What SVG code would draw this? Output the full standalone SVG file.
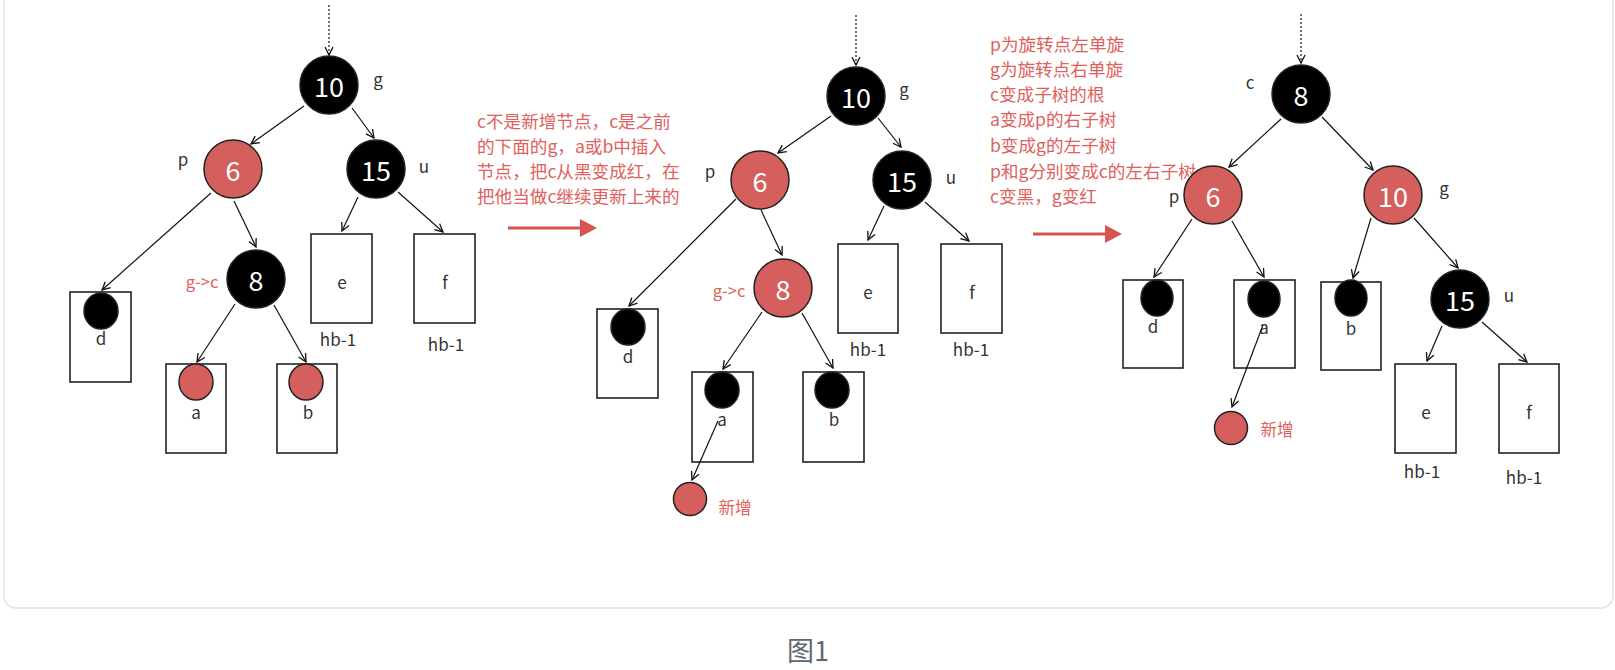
<svg xmlns="http://www.w3.org/2000/svg" width="1615" height="670" viewBox="0 0 1615 670">
<defs>
<marker id="open" markerUnits="userSpaceOnUse" markerWidth="12" markerHeight="12" refX="9" refY="5" orient="auto">
<path d="M1,1 L9,5 L1,9" fill="none" stroke="#111" stroke-width="1.3"/>
</marker>
<style>
.lbl{font-family:"Noto Sans CJK SC","Noto Sans",sans-serif;font-size:17px;fill:#333;text-anchor:middle;dominant-baseline:central}
.num{font-family:"Noto Sans CJK SC","Noto Sans",sans-serif;font-size:27px;fill:#fff;text-anchor:middle;dominant-baseline:central}
.red-t{font-family:"Noto Sans CJK SC","Noto Sans",sans-serif;font-size:17.6px;fill:#e0605c}
.rl{font-family:"Noto Sans CJK SC","Noto Sans",sans-serif;font-size:16.5px;fill:#e0605c;text-anchor:middle;dominant-baseline:central}
.blk{fill:#000;stroke:#222;stroke-width:1.5}
.red{fill:#d45f5c;stroke:#222;stroke-width:1.5}
.box{fill:#fff;stroke:#222;stroke-width:1.6}
.edge{stroke:#111;stroke-width:1.2;fill:none;marker-end:url(#open)}
.dot{stroke:#111;stroke-width:1.2;fill:none;stroke-dasharray:2 2;marker-end:url(#open)}
.arrowline{stroke:#d9534f;stroke-width:3}
</style>
</defs>
<rect x="0" y="0" width="1615" height="670" fill="#fff"/>
<rect x="4" y="-20" width="1609" height="628" rx="12" ry="12" fill="#fff" stroke="#e2e2e6" stroke-width="1.5"/>
<text x="808" y="649" font-family="'Noto Sans CJK SC','Noto Sans',sans-serif" font-size="27" fill="#5f6670" text-anchor="middle" dominant-baseline="central">图1</text>

<g id="connectors">
<line class="dot" x1="329" y1="5" x2="329" y2="55"/>
<line class="edge" x1="304" y1="106" x2="251" y2="144"/>
<line class="edge" x1="352" y1="108" x2="374" y2="138"/>
<line class="edge" x1="211" y1="193" x2="102" y2="290"/>
<line class="edge" x1="234" y1="201" x2="256" y2="247"/>
<line class="edge" x1="358" y1="197" x2="342" y2="231"/>
<line class="edge" x1="398" y1="192" x2="443" y2="232"/>
<line class="edge" x1="235" y1="304" x2="197" y2="362"/>
<line class="edge" x1="274" y1="305" x2="306" y2="362"/>

<line class="dot" x1="856" y1="15" x2="856" y2="65"/>
<line class="edge" x1="831" y1="116" x2="778" y2="153"/>
<line class="edge" x1="878" y1="118" x2="901" y2="147"/>
<line class="edge" x1="736" y1="199" x2="629" y2="306"/>
<line class="edge" x1="761" y1="210" x2="782" y2="255"/>
<line class="edge" x1="884" y1="206" x2="868" y2="240"/>
<line class="edge" x1="925" y1="202" x2="969" y2="241"/>
<line class="edge" x1="762" y1="312" x2="723" y2="369"/>
<line class="edge" x1="802" y1="313" x2="833" y2="368"/>

<line class="dot" x1="1301" y1="14" x2="1301" y2="63"/>
<line class="edge" x1="1281" y1="119" x2="1229" y2="167"/>
<line class="edge" x1="1322" y1="117" x2="1373" y2="170"/>
<line class="edge" x1="1192" y1="219" x2="1154" y2="277"/>
<line class="edge" x1="1232" y1="221" x2="1264" y2="277"/>
<line class="edge" x1="1371" y1="218" x2="1353" y2="278"/>
<line class="edge" x1="1414" y1="218" x2="1458" y2="268"/>
<line class="edge" x1="1442" y1="326" x2="1427" y2="361"/>
<line class="edge" x1="1482" y1="322" x2="1527" y2="362"/>

<line class="arrowline" x1="508" y1="228" x2="582" y2="228"/>
<polygon points="580,219 597,228 580,237" fill="#d9534f"/>
<line class="arrowline" x1="1033" y1="234" x2="1107" y2="234"/>
<polygon points="1105,225 1122,234 1105,243" fill="#d9534f"/>
</g>

<!-- Tree 1 -->
<g id="t1-n10"><circle class="blk" cx="329" cy="85" r="29"/><text class="num" x="329" y="85">10</text><text class="lbl" x="378" y="78">g</text></g>
<g id="t1-n6"><circle class="red" cx="233" cy="169" r="29"/><text class="num" x="233" y="169">6</text><text class="lbl" x="183" y="158">p</text></g>
<g id="t1-n15"><circle class="blk" cx="376" cy="169" r="29"/><text class="num" x="376" y="169">15</text><text class="lbl" x="424" y="165">u</text></g>
<g id="t1-n8"><circle class="blk" cx="256" cy="279" r="29"/><text class="num" x="256" y="279">8</text><text class="rl" x="202" y="281">g-&gt;c</text></g>
<g id="t1-d"><rect class="box" x="70" y="292" width="61" height="90"/><ellipse class="blk" cx="101" cy="311" rx="17" ry="18"/><text class="lbl" x="101" y="337">d</text></g>
<g id="t1-a"><rect class="box" x="166" y="364" width="60" height="89"/><ellipse class="red" cx="196" cy="382" rx="17" ry="18"/><text class="lbl" x="196" y="411">a</text></g>
<g id="t1-b"><rect class="box" x="277" y="364" width="60" height="89"/><ellipse class="red" cx="306" cy="382" rx="17" ry="18"/><text class="lbl" x="308" y="411">b</text></g>
<g id="t1-e"><rect class="box" x="311" y="234" width="61" height="89"/><text class="lbl" x="342" y="281">e</text><text class="lbl" x="338" y="338">hb-1</text></g>
<g id="t1-f"><rect class="box" x="414" y="234" width="61" height="89"/><text class="lbl" x="445" y="281">f</text><text class="lbl" x="446" y="343">hb-1</text></g>

<g id="note1">
<text class="red-t" x="477" y="128">c不是新增节点，c是之前</text>
<text class="red-t" x="477" y="153">的下面的g，a或b中插入</text>
<text class="red-t" x="477" y="178">节点，把c从黑变成红，在</text>
<text class="red-t" x="477" y="203">把他当做c继续更新上来的</text>
</g>

<!-- Tree 2 -->
<g id="t2-n10"><circle class="blk" cx="856" cy="96" r="29"/><text class="num" x="856" y="96">10</text><text class="lbl" x="904" y="88">g</text></g>
<g id="t2-n6"><circle class="red" cx="760" cy="180" r="29"/><text class="num" x="760" y="180">6</text><text class="lbl" x="710" y="170">p</text></g>
<g id="t2-n15"><circle class="blk" cx="902" cy="180" r="29"/><text class="num" x="902" y="180">15</text><text class="lbl" x="951" y="176">u</text></g>
<g id="t2-n8"><circle class="red" cx="783" cy="288" r="29"/><text class="num" x="783" y="288">8</text><text class="rl" x="729" y="290">g-&gt;c</text></g>
<g id="t2-d"><rect class="box" x="597" y="309" width="61" height="89"/><ellipse class="blk" cx="628" cy="327" rx="17" ry="18"/><text class="lbl" x="628" y="355">d</text></g>
<g id="t2-a"><rect class="box" x="692" y="372" width="61" height="90"/><ellipse class="blk" cx="722" cy="390" rx="17" ry="18"/><text class="lbl" x="722" y="418">a</text></g>
<g id="t2-b"><rect class="box" x="803" y="372" width="61" height="90"/><ellipse class="blk" cx="832" cy="390" rx="17" ry="18"/><text class="lbl" x="834" y="418">b</text></g>
<g id="t2-e"><rect class="box" x="838" y="244" width="60" height="89"/><text class="lbl" x="868" y="291">e</text><text class="lbl" x="868" y="348">hb-1</text></g>
<g id="t2-f"><rect class="box" x="941" y="244" width="61" height="89"/><text class="lbl" x="972" y="291">f</text><text class="lbl" x="971" y="348">hb-1</text></g>
<g id="t2-new"><line class="edge" x1="718" y1="421" x2="692" y2="480"/><circle class="red" cx="690" cy="499" r="16.5"/><text class="rl" x="735" y="507" font-size="17.5">新增</text></g>

<g id="note2">
<text class="red-t" x="990" y="51">p为旋转点左单旋</text>
<text class="red-t" x="990" y="76">g为旋转点右单旋</text>
<text class="red-t" x="990" y="101">c变成子树的根</text>
<text class="red-t" x="990" y="126">a变成p的右子树</text>
<text class="red-t" x="990" y="152">b变成g的左子树</text>
<text class="red-t" x="990" y="178">p和g分别变成c的左右子树</text>
<text class="red-t" x="990" y="203">c变黑，g变红</text>
</g>

<!-- Tree 3 -->
<g id="t3-n8"><circle class="blk" cx="1301" cy="94" r="29"/><text class="num" x="1301" y="94">8</text><text class="lbl" x="1250" y="81">c</text></g>
<g id="t3-n6"><circle class="red" cx="1213" cy="195" r="29"/><text class="num" x="1213" y="195">6</text><text class="lbl" x="1174" y="195">p</text></g>
<g id="t3-n10"><circle class="red" cx="1393" cy="195" r="29"/><text class="num" x="1393" y="195">10</text><text class="lbl" x="1444" y="187">g</text></g>
<g id="t3-n15"><circle class="blk" cx="1460" cy="299" r="29"/><text class="num" x="1460" y="299">15</text><text class="lbl" x="1509" y="294">u</text></g>
<g id="t3-d"><rect class="box" x="1123" y="280" width="60" height="88"/><ellipse class="blk" cx="1157" cy="298" rx="16" ry="18"/><text class="lbl" x="1153" y="325">d</text></g>
<g id="t3-a"><rect class="box" x="1234" y="280" width="61" height="88"/><ellipse class="blk" cx="1264" cy="299" rx="16" ry="18"/><text class="lbl" x="1264" y="326">a</text></g>
<g id="t3-b"><rect class="box" x="1321" y="282" width="60" height="88"/><ellipse class="blk" cx="1351" cy="298" rx="16" ry="18"/><text class="lbl" x="1351" y="327">b</text></g>
<g id="t3-e"><rect class="box" x="1395" y="364" width="61" height="89"/><text class="lbl" x="1426" y="411">e</text><text class="lbl" x="1422" y="470">hb-1</text></g>
<g id="t3-f"><rect class="box" x="1499" y="364" width="60" height="89"/><text class="lbl" x="1529" y="411">f</text><text class="lbl" x="1524" y="476">hb-1</text></g>
<g id="t3-new"><line class="edge" x1="1263" y1="325" x2="1232" y2="407"/><circle class="red" cx="1231" cy="428" r="16.5"/><text class="rl" x="1277" y="429" font-size="17.5">新增</text></g>
</svg>
